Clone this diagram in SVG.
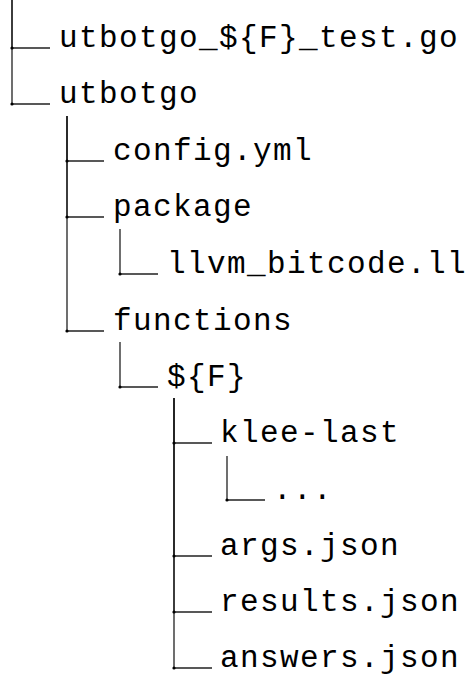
<svg xmlns="http://www.w3.org/2000/svg" width="468" height="679" viewBox="0 0 468 679">
  <style>
    .lbl { font-family: "Liberation Mono", "DejaVu Sans Mono", monospace; font-size: 31px; letter-spacing: 1.4px; fill: #000; }
    .edge { fill: none; stroke: #222; stroke-width: 1.3; }
    .dot { fill: #000; }
  </style>
  <rect width="468" height="679" fill="#fff"/>

  <!-- tree connectors: vertical spine from parent, elbow into child -->
  <g id="connectors">
    <path class="edge" d="M12,0 V48 H50"/>
    <path class="edge" d="M12,0 V104 H50"/>
    <path class="edge" d="M67,116 V161 H104"/>
    <path class="edge" d="M67,116 V217 H104"/>
    <path class="edge" d="M120,229 V274 H158"/>
    <path class="edge" d="M67,116 V331 H104"/>
    <path class="edge" d="M120,342 V387 H158"/>
    <path class="edge" d="M174,398 V443 H212"/>
    <path class="edge" d="M227,456 V500 H265"/>
    <path class="edge" d="M174,398 V556 H212"/>
    <path class="edge" d="M174,398 V612 H212"/>
    <path class="edge" d="M174,398 V668 H212"/>
    <g class="dot">
      <circle cx="12" cy="48" r="1.6"/>
      <circle cx="12" cy="104" r="1.6"/>
      <circle cx="67" cy="161" r="1.6"/>
      <circle cx="67" cy="217" r="1.6"/>
      <circle cx="120" cy="274" r="1.6"/>
      <circle cx="67" cy="331" r="1.6"/>
      <circle cx="120" cy="387" r="1.6"/>
      <circle cx="174" cy="443" r="1.6"/>
      <circle cx="227" cy="500" r="1.6"/>
      <circle cx="174" cy="556" r="1.6"/>
      <circle cx="174" cy="612" r="1.6"/>
      <circle cx="174" cy="668" r="1.6"/>
    </g>
  </g>

  <g id="test-file"><text class="lbl" x="59" y="47">utbotgo_${F}_test.go</text></g>
  <g id="utbotgo"><text class="lbl" x="59" y="103">utbotgo</text></g>
  <g id="config"><text class="lbl" x="113" y="160">config.yml</text></g>
  <g id="package"><text class="lbl" x="113" y="216">package</text></g>
  <g id="llvm-bitcode"><text class="lbl" x="167" y="273">llvm_bitcode.ll</text></g>
  <g id="functions"><text class="lbl" x="113" y="330">functions</text></g>
  <g id="func-dir"><text class="lbl" x="167" y="386">${F}</text></g>
  <g id="klee-last"><text class="lbl" x="220" y="442">klee-last</text></g>
  <g id="klee-contents"><text class="lbl" x="273" y="499">...</text></g>
  <g id="args"><text class="lbl" x="220" y="555">args.json</text></g>
  <g id="results"><text class="lbl" x="220" y="611">results.json</text></g>
  <g id="answers"><text class="lbl" x="220" y="667">answers.json</text></g>
</svg>
